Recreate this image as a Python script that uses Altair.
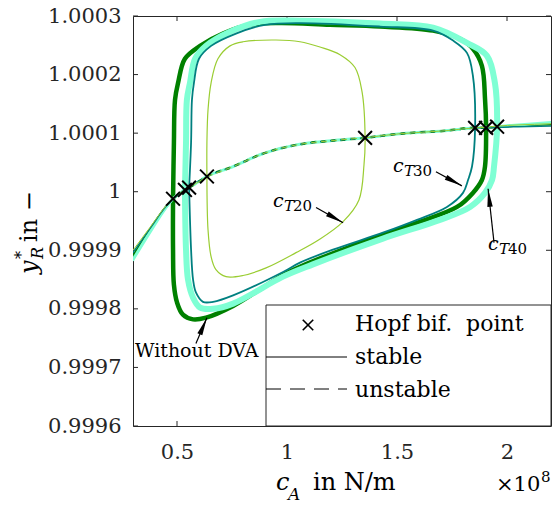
import math
import altair as alt
import pandas as pd

FONT = "DejaVu Serif"
W, H = 418, 410

# axis ranges (x in 1e8 N/m)
x_domain = [0.3, 2.2]
y_domain = [0.9996, 1.0003]
x_ticks = [0.5, 1.0, 1.5, 2.0]
y_ticks = [0.9996, 0.9997, 0.9998, 0.9999, 1.0, 1.0001, 1.0002, 1.0003]

series_names = ["Without DVA", "cT40", "cT30", "cT20"]
series_colors = ["#008000", "#7fffd4", "#008080", "#9acd32"]
loop_widths = [4.5, 6.0, 1.8, 1.2]
branch_widths = [2.5, 3.0, 1.5, 1.0]

# closed loops (limit cycle extrema)
dg_loop_x = [0.482, 0.486, 0.491, 0.505, 0.536, 0.605, 0.709, 0.832, 0.968, 1.195, 1.423, 1.664, 1.786,
             1.845, 1.886, 1.900, 1.905, 1.900, 1.886, 1.845, 1.773, 1.591, 1.286, 1.059, 0.982, 0.868,
             0.755, 0.632, 0.573, 0.527, 0.500, 0.486, 0.482, 0.482]
dg_loop_y = [0.999988, 1.000084, 1.000157, 1.000186, 1.000227, 1.000249, 1.000270, 1.000285, 1.000288,
             1.000285, 1.000282, 1.000275, 1.000261, 1.000244, 1.000215, 1.000159, 1.000109, 1.000043,
             1.000020, 0.999998, 0.999974, 0.999947, 0.999906, 0.999872, 0.999858, 0.999831, 0.999805,
             0.999785, 0.999782, 0.999790, 0.999811, 0.999841, 0.999901, 0.999988]

aq_loop_x = [0.536, 0.541, 0.545, 0.559, 0.582, 0.632, 0.741, 0.877, 1.059, 1.423, 1.664, 1.818, 1.909,
             1.945, 1.955, 1.941, 1.932, 1.900, 1.832, 1.695, 1.436, 1.118, 0.982, 0.755, 0.664, 0.605,
             0.573, 0.550, 0.541, 0.536]
aq_loop_y = [1.000003, 1.000084, 1.000157, 1.000186, 1.000227, 1.000249, 1.000273, 1.000290, 1.000292,
             1.000287, 1.000280, 1.000254, 1.000232, 1.000186, 1.000111, 1.000043, 1.000020, 0.999998,
             0.999974, 0.999952, 0.999920, 0.999876, 0.999855, 0.999809, 0.999800, 0.999802, 0.999819,
             0.999850, 0.999901, 1.000003]

te_loop_x = [0.555, 0.564, 0.568, 0.577, 0.600, 0.655, 0.768, 0.900, 1.059, 1.423, 1.664, 1.755, 1.818,
             1.845, 1.855, 1.841, 1.823, 1.800, 1.727, 1.591, 1.436, 1.209, 1.059, 0.982, 0.755, 0.664,
             0.618, 0.586, 0.573, 0.564, 0.555]
te_loop_y = [1.000007, 1.000084, 1.000157, 1.000186, 1.000227, 1.000249, 1.000270, 1.000285, 1.000288,
             1.000282, 1.000275, 1.000258, 1.000237, 1.000198, 1.000109, 1.000043, 1.000020, 0.999998,
             0.999974, 0.999952, 0.999930, 0.999901, 0.999879, 0.999863, 0.999823, 0.999812, 0.999812,
             0.999828, 0.999850, 0.999901, 1.000007]

yg_loop_x = [0.636, 0.636, 0.641, 0.655, 0.686, 0.741, 0.800, 0.950, 1.059, 1.150, 1.241, 1.309, 1.341,
             1.355, 1.350, 1.327, 1.255, 1.145, 1.041, 0.905, 0.800, 0.723, 0.677, 0.655, 0.641, 0.636]
yg_loop_y = [1.000026, 1.000084, 1.000140, 1.000186, 1.000227, 1.000249, 1.000256, 1.000259, 1.000256,
             1.000247, 1.000234, 1.000212, 1.000171, 1.000092, 1.000046, 0.999986, 0.999949, 0.999918,
             0.999896, 0.999870, 0.999857, 0.999855, 0.999867, 0.999889, 0.999935, 1.000026]

# equilibrium branches
branch_x = [0.300, 0.377, 0.450, 0.482, 0.536, 0.555, 0.636, 0.755, 0.891, 1.059, 1.200, 1.355, 1.514,
            1.718, 1.855, 1.905, 1.955, 2.050, 2.200]
dg_branch_y = [0.999890, 0.999934, 0.999974, 0.999988, 1.000003, 1.000007, 1.000026, 1.000043, 1.000065,
               1.000081, 1.000087, 1.000092, 1.000099, 1.000104, 1.000109, 1.000109, 1.000111, 1.000113, 1.000115]
aq_branch_y = [0.999884, 0.999931, 0.999973, 0.999988, 1.000003, 1.000007, 1.000026, 1.000043, 1.000065,
               1.000081, 1.000087, 1.000092, 1.000099, 1.000104, 1.000109, 1.000110, 1.000111, 1.000114, 1.000118]
te_branch_y = [0.999896, 0.999937, 0.999975, 0.999988, 1.000003, 1.000007, 1.000026, 1.000043, 1.000065,
               1.000081, 1.000087, 1.000092, 1.000099, 1.000104, 1.000109, 1.000109, 1.000110, 1.000111, 1.000112]
yg_branch_y = [0.999900, 0.999939, 0.999976, 0.999989, 1.000003, 1.000007, 1.000026, 1.000043, 1.000065,
               1.000081, 1.000087, 1.000092, 1.000099, 1.000104, 1.000109, 1.000110, 1.000112, 1.000114, 1.000116]

hopf_left = [0.482, 0.536, 0.555, 0.636]
hopf_right = [1.905, 1.955, 1.855, 1.355]

loops = [(dg_loop_x, dg_loop_y), (aq_loop_x, aq_loop_y), (te_loop_x, te_loop_y), (yg_loop_x, yg_loop_y)]
branches = [dg_branch_y, aq_branch_y, te_branch_y, yg_branch_y]

# annotations: label anchor (x, y), arrow tail and tip
ann_main = ["c", "c", "c"]
ann_sub_letter = ["T", "T", "T"]
ann_sub_num = ["20", "30", "40"]
ann_x = [0.936, 1.482, 1.914]
ann_y = [0.999974, 1.000034, 0.999901]
nodva_label = "Without DVA"
nodva_x, nodva_y = 0.309, 0.999717
arrow_tail_x = [1.132, 1.677, 1.941, 0.586]
arrow_tail_y = [0.999973, 1.000034, 0.999913, 0.999741]
arrow_tip_x = [1.255, 1.795, 1.914, 0.636]
arrow_tip_y = [0.999947, 1.000010, 1.000005, 0.999785]

legend_labels = ["Hopf bif.\u00a0 point", "stable", "unstable"]

# ------------------------------------------------------------------
xscale = alt.Scale(domain=x_domain, nice=False, zero=False)
yscale = alt.Scale(domain=y_domain, nice=False, zero=False)
xaxis = alt.Axis(values=x_ticks, format="~g", title=None, labelPadding=15)
yaxis = alt.Axis(values=y_ticks, title=None, labelPadding=12,
                 labelExpr="datum.value == 1 ? '1' : format(datum.value, '.4f')")


def X(field="x"):
    return alt.X(f"{field}:Q", scale=xscale, axis=xaxis)


def Y(field="y"):
    return alt.Y(f"{field}:Q", scale=yscale, axis=yaxis)


def line_layer(xs, ys, color, width, dash=None, interp="catmull-rom"):
    df = pd.DataFrame({"x": xs, "y": ys, "i": list(range(len(xs)))})
    kw = dict(color=color, strokeWidth=width, clip=True, interpolate=interp,
              strokeCap="round", strokeJoin="round")
    if dash:
        kw["strokeDash"] = dash
        kw["strokeCap"] = "butt"
    return alt.Chart(df).mark_line(**kw).encode(x=X(), y=Y(), order="i:Q")


layers = []

# ticks drawn inside the frame
tx = pd.DataFrame({"x": x_ticks})
ty = pd.DataFrame({"y": y_ticks})
TC = "#262626"
layers.append(alt.Chart(tx).mark_rule(color=TC, strokeWidth=1).encode(x=X(), y=alt.value(H), y2=alt.value(H - 5)))
layers.append(alt.Chart(tx).mark_rule(color=TC, strokeWidth=1).encode(x=X(), y=alt.value(0), y2=alt.value(5)))
layers.append(alt.Chart(ty).mark_rule(color=TC, strokeWidth=1).encode(y=Y(), x=alt.value(0), x2=alt.value(5)))
layers.append(alt.Chart(ty).mark_rule(color=TC, strokeWidth=1).encode(y=Y(), x=alt.value(W), x2=alt.value(W - 5)))

hopf_rows = []
for k in range(4):
    lx, ly = loops[k]
    col = series_colors[k]
    layers.append(line_layer(lx, ly, col, loop_widths[k]))
    by = branches[k]
    hl, hr = hopf_left[k], hopf_right[k]
    left = [(x, y) for x, y in zip(branch_x, by) if x <= hl]
    mid = [(x, y) for x, y in zip(branch_x, by) if hl <= x <= hr]
    right = [(x, y) for x, y in zip(branch_x, by) if x >= hr]
    for seg, dash in ((left, None), (mid, [6, 4]), (right, None)):
        if len(seg) >= 2:
            layers.append(line_layer([p[0] for p in seg], [p[1] for p in seg], col,
                                     branch_widths[k], dash=dash, interp="monotone"))
    for x, y in zip(branch_x, by):
        if x == hl or x == hr:
            hopf_rows.append({"x": x, "y": y})

XPATH = "M-1,-1L1,1M-1,1L1,-1"
layers.append(alt.Chart(pd.DataFrame(hopf_rows)).mark_point(
    shape=XPATH, filled=False, color="black", strokeWidth=2, size=190, opacity=1
).encode(x=X(), y=Y()))

# arrows
px_per_x = W / (x_domain[1] - x_domain[0])
px_per_y = H / (y_domain[1] - y_domain[0])
arr = pd.DataFrame({"x": arrow_tail_x, "y": arrow_tail_y, "x2": arrow_tip_x, "y2": arrow_tip_y})
arr["angle"] = [
    math.degrees(math.atan2((tx_ - sx) * px_per_x, (ty_ - sy) * px_per_y)) % 360
    for sx, sy, tx_, ty_ in zip(arrow_tail_x, arrow_tail_y, arrow_tip_x, arrow_tip_y)
]
layers.append(alt.Chart(arr).mark_rule(color="black", strokeWidth=1.2).encode(
    x=X(), y=Y(), x2="x2:Q", y2="y2:Q"))
HEAD = "M0,0L0.3,2L-0.3,2Z"
layers.append(alt.Chart(arr).mark_point(
    shape=HEAD, filled=True, color="black", size=324, strokeWidth=0, opacity=1
).encode(x=alt.X("x2:Q", scale=xscale, axis=xaxis), y=alt.Y("y2:Q", scale=yscale, axis=yaxis),
         angle=alt.Angle("angle:Q", scale=None)))


def dtext(s, x, y, size, style="normal", dx=0, dy=0):
    df = pd.DataFrame({"x": [x], "y": [y], "t": [s]})
    return alt.Chart(df).mark_text(font=FONT, fontSize=size, fontStyle=style, align="left",
                                   baseline="alphabetic", color="black", dx=dx, dy=dy
                                   ).encode(x=X(), y=Y(), text="t:N")


for m, sl, sn, ax, ay in zip(ann_main, ann_sub_letter, ann_sub_num, ann_x, ann_y):
    layers.append(dtext(m, ax, ay, 19, "italic"))
    layers.append(dtext(sl, ax, ay, 15, "italic", dx=11, dy=4))
    layers.append(dtext(sn, ax, ay, 15, "normal", dx=20, dy=4))
layers.append(dtext(nodva_label, nodva_x, nodva_y, 19))


def ptext(s, x, y, size, style="normal", angle=None, align="left"):
    kw = dict(font=FONT, fontSize=size, fontStyle=style, align=align, baseline="alphabetic", color="black")
    if angle is not None:
        kw["angle"] = angle
    return alt.Chart(pd.DataFrame({"t": [s]})).mark_text(**kw).encode(
        x=alt.value(x), y=alt.value(y), text="t:N")


# legend box
layers.append(alt.Chart(pd.DataFrame({"a": [0]})).mark_rect(
    fill="white", stroke=TC, strokeWidth=1).encode(
    x=alt.value(133), x2=alt.value(W), y=alt.value(289), y2=alt.value(H)))
layers.append(alt.Chart(pd.DataFrame({"a": [0]})).mark_point(
    shape=XPATH, filled=False, color="black", strokeWidth=1.6, size=110, opacity=1).encode(
    x=alt.value(175), y=alt.value(309)))
layers.append(alt.Chart(pd.DataFrame({"a": [0]})).mark_rule(color="black", strokeWidth=1).encode(
    x=alt.value(133), x2=alt.value(214), y=alt.value(341)))
layers.append(alt.Chart(pd.DataFrame({"a": [0]})).mark_rule(
    color="black", strokeWidth=1, strokeDash=[15, 9]).encode(
    x=alt.value(133), x2=alt.value(214), y=alt.value(373)))
layers.append(ptext(legend_labels[0], 222, 315, 22))
layers.append(ptext(legend_labels[1], 222, 348, 22))
layers.append(ptext(legend_labels[2], 222, 381, 22))

# axis titles
layers.append(ptext("c", 143, 474, 24, "italic"))
layers.append(ptext("A", 155, 484, 17, "italic"))
layers.append(ptext("in N/m", 180, 474, 24))
layers.append(ptext("\u00d710", 363, 475, 21))
layers.append(ptext("8", 408, 466, 15))

layers.append(ptext("y", -96, 258, 24, "italic", angle=270))
layers.append(ptext("*", -106, 243, 16, angle=270))
layers.append(ptext("R", -90, 243, 16, "italic", angle=270))
layers.append(ptext("in \u2212", -96, 226, 24, angle=270))

chart = alt.layer(*layers).properties(
    width=W, height=H,
    autosize=alt.AutoSizeParams(type="none"),
    padding={"left": 133, "top": 16, "right": 1, "bottom": 80},
).configure_view(stroke=TC, strokeWidth=1).configure_axis(
    domain=False, ticks=False, grid=False, tickSize=0,
    labelFont=FONT, labelFontSize=21, labelColor=TC,
)

chart.save("out.html", embed_options={"renderer": "svg", "actions": False})
